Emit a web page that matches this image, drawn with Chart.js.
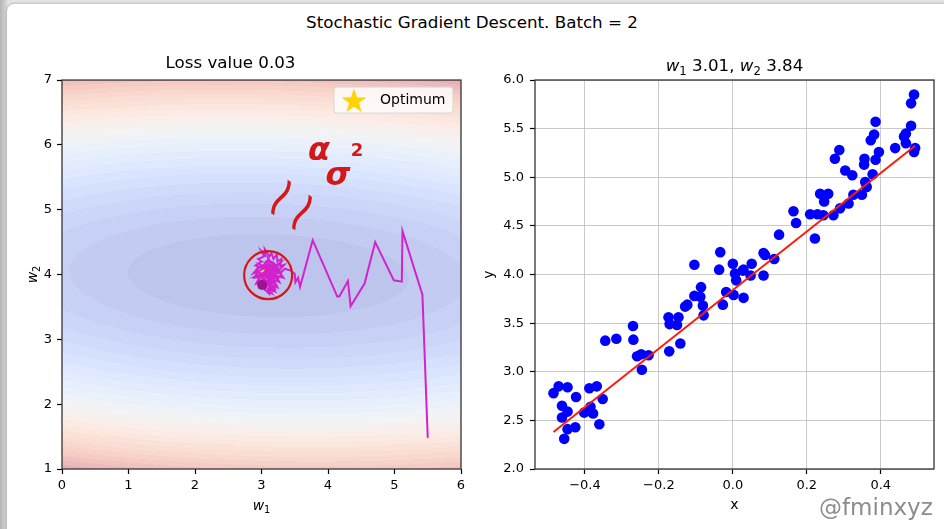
<!DOCTYPE html>
<html>
<head>
<meta charset="utf-8">
<script src="https://cdn.jsdelivr.net/npm/chart.js@4.4.1/dist/chart.umd.min.js"></script>
<style>
  html, body { margin: 0; padding: 0; }
  body {
    width: 944px; height: 529px; position: relative; overflow: hidden;
    background: linear-gradient(to right, #b4b4b4 0px, #d4d4d4 6px, #e4e4e4 8px);
    font-family: "DejaVu Sans", sans-serif;
  }
  #sheet {
    position: absolute; left: 7px; top: 4px; width: 960px; height: 560px;
    background: #fff; border-radius: 7px 0 0 0; box-shadow: 0 0 3px rgba(0,0,0,0.35);
  }
  #suptitle {
    position: absolute; left: 0; width: 944px; top: 12px; text-align: center;
    font-size: 16.7px; line-height: 20px; color: #000;
  }
  canvas { position: absolute; top: 0; }
  #left { left: 0; }
  #right { left: 472px; }
  .ink {
    position: absolute; color: #d41818; font-family: "DejaVu Sans", sans-serif;
    font-weight: bold; line-height: 1; transform: translate(-50%, -50%);
  }
  #mark {
    position: absolute; left: 819px; top: 494px; font-size: 23px; line-height: 26px;
    color: #8c8c8c; text-shadow: 0 0 2px #fff;
  }
</style>
</head>
<body>
<div id="sheet"></div>
<div id="suptitle">Stochastic Gradient Descent. Batch = 2</div>
<canvas id="left" width="472" height="529"></canvas>
<canvas id="right" width="472" height="529"></canvas>
<span class="ink" style="left:280px;top:197px;font-size:44px;font-weight:normal;transform:translate(-50%,-50%) rotate(-58deg) scaleX(1.35)">~</span>
<span class="ink" style="left:301px;top:212px;font-size:44px;font-weight:normal;transform:translate(-50%,-50%) rotate(-58deg) scaleX(1.35)">~</span>
<span class="ink" style="left:319px;top:149px;font-size:32px;font-style:italic">α</span>
<span class="ink" style="left:338px;top:174px;font-size:32px;font-style:italic">σ</span>
<span class="ink" style="left:357px;top:150px;font-size:18px;">2</span>
<div id="mark">@fminxyz</div>

<script>
// ---- data ----
// right panel: samples
const dataX = [0.490, 0.482, 0.482, 0.468, 0.463, 0.468, 0.493, 0.490, 0.439, 0.386,
  0.382, 0.373, 0.395, 0.386, 0.356, 0.355, 0.378, 0.358, 0.362, 0.349,
  0.326, 0.288, 0.276, 0.304, 0.323, 0.313, 0.290, 0.272, 0.236, 0.258,
  0.247, 0.245, 0.229, 0.209, 0.222, 0.164, 0.171, 0.125, 0.083, 0.087,
  0.112, -0.034, -0.104, -0.037, 0.000, 0.051, 0.027, 0.006, 0.083, 0.048,
  -0.086, -0.018, 0.002, 0.029, -0.027, -0.104, -0.088, -0.081, -0.079, -0.123,
  -0.129, -0.174, -0.147, -0.171, -0.151, -0.142, -0.172, -0.270, -0.269, -0.315,
  -0.345, -0.259, -0.248, -0.228, -0.246, -0.485, -0.471, -0.447, -0.462, -0.462,
  -0.447, -0.447, -0.456, -0.426, -0.424, -0.388, -0.368, -0.352, -0.402, -0.385,
  -0.378, -0.361, 0.009, 0.029];
const dataY = [5.85, 5.76, 5.53, 5.45, 5.42, 5.35, 5.30, 5.26, 5.30, 5.57,
  5.44, 5.38, 5.26, 5.18, 5.19, 5.13, 5.03, 4.95, 4.90, 4.82,
  4.82, 5.28, 5.19, 5.07, 5.02, 4.73, 4.68, 4.61, 4.83, 4.83,
  4.75, 4.61, 4.62, 4.62, 4.37, 4.65, 4.53, 4.41, 4.22, 4.20,
  4.16, 4.23, 4.10, 4.05, 4.11, 4.11, 4.04, 4.01, 3.99, 3.99,
  3.87, 3.82, 3.79, 3.76, 3.69, 3.78, 3.77, 3.68, 3.58, 3.69,
  3.67, 3.56, 3.56, 3.49, 3.48, 3.29, 3.21, 3.47, 3.33, 3.34,
  3.32, 3.16, 3.18, 3.17, 3.02, 2.78, 2.85, 2.84, 2.65, 2.53,
  2.59, 2.41, 2.31, 2.43, 2.74, 2.83, 2.85, 2.72, 2.58, 2.64,
  2.57, 2.46, 3.94, 4.05];

// current weights (w1, w2) and the x span of the fitted line
const fitW = [3.01, 3.84];
const lineX = [-0.485, 0.493];

// left panel: SGD trajectory in (w1, w2)
const pathW1 = [5.50, 5.42, 5.12, 5.11, 4.99, 4.71, 4.55, 4.34, 4.30, 4.17, 4.14, 3.77, 3.58, 3.55, 3.51, 3.50, 3.44, 3.35,
  3.28, 3.33, 3.22, 3.27, 3.18, 3.24, 3.14, 3.20, 3.10, 3.15, 3.05, 3.08, 2.98, 3.02, 2.92, 2.97, 2.89, 2.95, 2.88,
  2.96, 2.91, 3.00, 2.95, 3.04, 3.00, 3.06, 3.05, 3.12, 3.15, 3.18, 3.23, 3.24, 3.30, 3.28, 3.34, 3.26, 3.17, 3.10,
  3.16, 3.06, 3.12, 3.08, 3.00, 3.07, 3.12, 3.20, 3.14, 3.22, 3.12, 3.05, 2.95, 3.00, 2.93, 3.03, 3.10, 3.18, 3.25,
  3.30, 3.23, 3.16, 3.08, 3.12, 3.18, 3.06, 3.26, 3.00, 3.22,
  2.95, 3.25, 2.98, 3.22, 3.00, 3.28, 3.05, 3.15, 3.10, 3.20, 2.93, 3.14, 3.08, 3.18, 3.04, 3.01];
const pathW2 = [1.48, 3.69, 4.67, 3.89, 3.91, 4.50, 3.86, 3.51, 3.90, 3.66, 3.66, 4.53, 3.81, 3.95, 3.88, 4.01, 4.06, 4.09,
  4.02, 3.95, 3.98, 3.88, 3.92, 3.80, 3.84, 3.74, 3.78, 3.71, 3.76, 3.85, 3.80, 3.90, 3.86, 3.96, 3.95, 4.05, 4.02,
  4.12, 4.14, 4.20, 4.24, 4.28, 4.36, 4.30, 4.39, 4.28, 4.33, 4.24, 4.31, 4.20, 4.24, 4.13, 4.15, 4.06, 4.12, 4.05,
  3.98, 4.00, 3.92, 4.12, 4.08, 4.20, 4.16, 4.06, 3.90, 3.84, 3.80, 3.92, 3.90, 4.00, 4.08, 4.14, 4.22, 4.18, 4.10,
  4.00, 3.92, 3.86, 3.74, 3.70, 3.95, 4.16, 4.02, 3.96, 3.76,
  4.00, 4.05, 4.15, 3.95, 3.88, 4.18, 4.05, 3.80, 4.25, 4.10, 3.98, 4.02, 3.93, 4.08, 3.82, 3.84];
const optimum = [3.10, 4.03];
const circleAt = [3.10, 3.99];

// ticks
const leftXTicks = [0, 1, 2, 3, 4, 5, 6];
const leftYTicks = [1, 2, 3, 4, 5, 6, 7];
const rightXTicks = [-0.4, -0.2, 0.0, 0.2, 0.4];
const rightYTicks = [2.0, 2.5, 3.0, 3.5, 4.0, 4.5, 5.0, 5.5, 6.0];

const nLevels = 25;

// ---- helpers ----
const coolwarmStops = [
  [0, 59, 76, 192], [0.125, 98, 130, 234], [0.25, 141, 176, 254], [0.375, 184, 208, 249],
  [0.5, 221, 221, 221], [0.625, 245, 196, 173], [0.75, 244, 154, 123], [0.875, 222, 96, 77], [1, 180, 4, 38]
];
function coolwarm(t) {
  for (let i = 1; i < coolwarmStops.length; i++) {
    const b = coolwarmStops[i];
    if (t <= b[0]) {
      const a = coolwarmStops[i - 1];
      const f = (t - a[0]) / (b[0] - a[0]);
      return [a[1] + f * (b[1] - a[1]), a[2] + f * (b[2] - a[2]), a[3] + f * (b[3] - a[3])];
    }
  }
  return coolwarmStops[coolwarmStops.length - 1].slice(1);
}

function starCanvas(size) {
  const c = document.createElement('canvas');
  c.width = size; c.height = size;
  const g = c.getContext('2d');
  const R = size / 2, r = R * 0.4;
  g.beginPath();
  for (let i = 0; i < 10; i++) {
    const ang = -Math.PI / 2 + i * Math.PI / 5;
    const rad = i % 2 ? r : R;
    g.lineTo(R + rad * Math.cos(ang), R + 1.5 + rad * Math.sin(ang));
  }
  g.closePath();
  g.fillStyle = '#ffd400';
  g.fill();
  return c;
}
const starImg = starCanvas(26);

// mathtext-like label: segments of [text, kind] where kind is 'i' italic, 's' subscript, '' plain
function drawMath(ctx, segs, cx, baseY, size, rot) {
  ctx.save();
  ctx.translate(cx, baseY);
  ctx.rotate(rot || 0);
  const fam = '"DejaVu Sans"';
  const fonts = segs.map(s => s[1] === 'i' ? 'italic ' + size + 'px ' + fam
    : s[1] === 's' ? (size * 0.7).toFixed(1) + 'px ' + fam : size + 'px ' + fam);
  let total = 0;
  const ws = segs.map((s, i) => { ctx.font = fonts[i]; const w = ctx.measureText(s[0]).width; total += w; return w; });
  let x = -total / 2;
  ctx.fillStyle = '#000';
  ctx.textAlign = 'left';
  ctx.textBaseline = 'alphabetic';
  segs.forEach((s, i) => {
    ctx.font = fonts[i];
    ctx.fillText(s[0], x, s[1] === 's' ? size * 0.22 : 0);
    x += ws[i];
  });
  ctx.restore();
}

const minus = (v, d) => v.toFixed(d).replace('-', '\u2212');
const tickFont = { family: 'DejaVu Sans', size: 13 };

function scaleOpts(pos, min, max, ticksArr, digits, fixSize, pad, grid, title) {
  return {
    type: 'linear', position: pos, min, max,
    afterBuildTicks: s => { s.ticks = ticksArr.map(v => ({ value: v })); },
    afterFit: s => { if (pos === 'left') s.width = fixSize; else s.height = fixSize; },
    ticks: { font: tickFont, color: '#000', padding: pad, minRotation: 0, maxRotation: 0, autoSkip: false,
      callback: v => minus(v, digits) },
    grid: grid,
    border: { display: false },
    title: title
  };
}

// ---- plugins ----
const lossContour = {
  id: 'lossContour',
  beforeDatasetsDraw(chart) {
    const { ctx, chartArea: a, scales: { x, y } } = chart;
    const n = dataX.length;
    let sx = 0, sy = 0, sxx = 0, sxy = 0, syy = 0;
    for (let i = 0; i < n; i++) {
      sx += dataX[i]; sy += dataY[i];
      sxx += dataX[i] * dataX[i]; sxy += dataX[i] * dataY[i]; syy += dataY[i] * dataY[i];
    }
    sx /= n; sy /= n; sxx /= n; sxy /= n; syy /= n;
    const loss = (p, q) => p * p * sxx + 2 * p * q * sx + q * q - 2 * p * sxy - 2 * q * sy + syy;

    const L = Math.round(a.left), T = Math.round(a.top);
    const W = Math.round(a.right) - L, H = Math.round(a.bottom) - T;
    const vals = new Float32Array(W * H);
    let lo = Infinity, hi = -Infinity;
    for (let j = 0; j < H; j++) {
      const q = y.getValueForPixel(T + j + 0.5);
      for (let i = 0; i < W; i++) {
        const v = loss(x.getValueForPixel(L + i + 0.5), q);
        vals[j * W + i] = v;
        if (v < lo) lo = v;
        if (v > hi) hi = v;
      }
    }
    const off = document.createElement('canvas');
    off.width = W; off.height = H;
    const oc = off.getContext('2d');
    const img = oc.createImageData(W, H);
    const alpha = 0.34;
    for (let k = 0; k < W * H; k++) {
      const band = Math.min(nLevels - 1, Math.floor((vals[k] - lo) / (hi - lo) * nLevels));
      const c = coolwarm((band + 0.5) / nLevels);
      img.data[4 * k] = 255 - alpha * (255 - c[0]);
      img.data[4 * k + 1] = 255 - alpha * (255 - c[1]);
      img.data[4 * k + 2] = 255 - alpha * (255 - c[2]);
      img.data[4 * k + 3] = 255;
    }
    oc.putImageData(img, 0, 0);
    ctx.drawImage(off, L, T);
  }
};

const spines = {
  id: 'spines',
  afterDatasetsDraw(chart) {
    const { ctx, chartArea: a } = chart;
    ctx.save();
    ctx.strokeStyle = '#333';
    ctx.lineWidth = 1.3;
    ctx.strokeRect(a.left, a.top, a.right - a.left, a.bottom - a.top);
    ctx.restore();
  }
};

const optimumLegend = {
  id: 'optimumLegend',
  afterDatasetsDraw(chart) {
    const { ctx, chartArea: a } = chart;
    const w = 119, h = 26;
    const bx = a.right - 8 - w, by = a.top + 7;
    ctx.save();
    ctx.beginPath();
    ctx.roundRect(bx, by, w, h, 3);
    ctx.fillStyle = 'rgba(255,255,255,0.8)';
    ctx.fill();
    ctx.strokeStyle = '#d6d6d6';
    ctx.lineWidth = 1;
    ctx.stroke();
    ctx.drawImage(starImg, bx + 7, by);
    ctx.fillStyle = '#000';
    ctx.font = '14px "DejaVu Sans"';
    ctx.textBaseline = 'middle';
    ctx.fillText('Optimum', bx + 46, by + h / 2 + 0.5);
    ctx.restore();
  }
};

const leftLabels = {
  id: 'leftLabels',
  afterDraw(chart) {
    const a = chart.chartArea;
    drawMath(chart.ctx, [['w', 'i'], ['1', 's']], (a.left + a.right) / 2, 510, 14);
    drawMath(chart.ctx, [['w', 'i'], ['2', 's']], 37, (a.top + a.bottom) / 2, 14, -Math.PI / 2);
  }
};

const rightTitle = {
  id: 'rightTitle',
  afterDraw(chart) {
    const a = chart.chartArea;
    drawMath(chart.ctx, [['w', 'i'], ['1', 's'], [' 3.01, ', ''], ['w', 'i'], ['2', 's'], [' 3.84', '']],
      (a.left + a.right) / 2, 71, 16.7);
  }
};

// ---- left: loss surface and SGD path ----
const plainGrid = { drawOnChartArea: false, drawTicks: true, tickLength: 5, tickColor: '#000', tickWidth: 1.2 };

new Chart(document.getElementById('left'), {
  type: 'scatter',
  data: {
    datasets: [
      { label: 'Optimum', data: [{ x: optimum[0], y: optimum[1] }], pointStyle: starImg, order: 4 },
      { label: 'path', data: pathW1.map((w, i) => ({ x: w, y: pathW2[i] })), showLine: true,
        borderColor: '#d222cc', borderWidth: 2, pointRadius: 0, order: 3 },
      { label: 'current', data: [{ x: fitW[0], y: fitW[1] }], pointRadius: 5, backgroundColor: '#9a1490',
        borderWidth: 0, order: 2 },
      { label: 'mark', data: [{ x: circleAt[0], y: circleAt[1] }], pointRadius: 24, borderColor: '#d41818',
        borderWidth: 2.2, backgroundColor: 'rgba(0,0,0,0)', order: 1 }
    ]
  },
  options: {
    responsive: false, animation: false, devicePixelRatio: 1,
    layout: { autoPadding: false, padding: { top: 54, right: 11, bottom: 0, left: 0 } },
    plugins: {
      legend: { display: false }, tooltip: { enabled: false },
      title: { display: true, text: 'Loss value 0.03', color: '#000',
        font: { family: 'DejaVu Sans', size: 16.7, weight: 'normal' }, padding: { top: 0, bottom: 6 } }
    },
    scales: {
      x: scaleOpts('bottom', 0, 6, leftXTicks, 0, 60, 4, plainGrid, { display: false }),
      y: scaleOpts('left', 1, 7, leftYTicks, 0, 62, 5, plainGrid, { display: false })
    }
  },
  plugins: [lossContour, spines, optimumLegend, leftLabels]
});

// ---- right: data and fitted line ----
const dotGrid = { color: '#bdbdbd', lineWidth: 0.8, borderDash: [1, 2], drawTicks: true, tickLength: 5,
  tickColor: '#000', tickWidth: 1.2, tickBorderDash: [] };
const plainTitle = { family: 'DejaVu Sans', size: 14 };

new Chart(document.getElementById('right'), {
  type: 'scatter',
  data: {
    datasets: [
      { label: 'fit', data: lineX.map(v => ({ x: v, y: fitW[0] * v + fitW[1] })), showLine: true,
        borderColor: '#ff1a0a', borderWidth: 2, pointRadius: 0, order: 1 },
      { label: 'data', data: dataX.map((v, i) => ({ x: v, y: dataY[i] })), pointRadius: 5.3,
        backgroundColor: '#0000ff', borderWidth: 0, order: 2 }
    ]
  },
  options: {
    responsive: false, animation: false, devicePixelRatio: 1,
    layout: { autoPadding: false, padding: { top: 80, right: 10, bottom: 0, left: 0 } },
    plugins: { legend: { display: false }, tooltip: { enabled: false }, title: { display: false } },
    scales: {
      x: scaleOpts('bottom', -0.535, 0.544, rightXTicks, 1, 60, 4, dotGrid,
        { display: true, text: 'x', color: '#000', font: plainTitle, padding: { top: 0, bottom: 15 } }),
      y: scaleOpts('left', 2, 6, rightYTicks, 1, 63, 6, dotGrid,
        { display: true, text: 'y', color: '#000', font: plainTitle, padding: { top: 9, bottom: 0 } })
    }
  },
  plugins: [spines, rightTitle]
});
</script>
</body>
</html>
